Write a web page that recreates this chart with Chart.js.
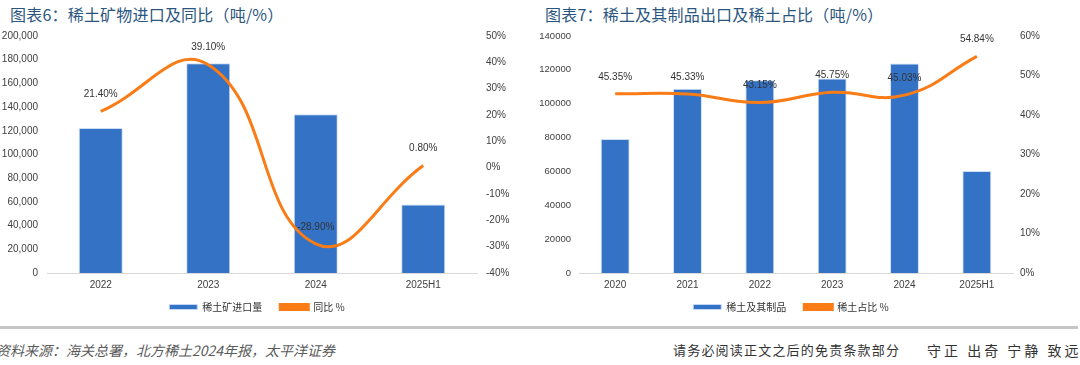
<!DOCTYPE html>
<html><head><meta charset="utf-8">
<script src="https://cdn.jsdelivr.net/npm/chart.js@4/dist/chart.umd.min.js"></script>
<style>
html,body{margin:0;padding:0;background:#fff;width:1080px;height:365px;overflow:hidden;position:relative;font-family:"Noto Sans CJK SC",sans-serif;}
.title{position:absolute;top:2px;font-size:16px;color:#2b5680;letter-spacing:0.2px;white-space:nowrap;line-height:24px;}
.box{position:absolute;top:0;}
.sep{position:absolute;left:0;top:326px;width:1078px;height:3px;background:#c6c6c6;}
.src{position:absolute;left:-4px;top:340px;font-size:14px;font-style:italic;color:#5a5a5a;letter-spacing:0px;white-space:nowrap;line-height:20px;}
.disc{position:absolute;left:673px;top:340px;font-size:13px;color:#333;letter-spacing:1.2px;white-space:nowrap;line-height:20px;}
.motto{position:absolute;left:927px;top:340px;font-size:14px;color:#333;letter-spacing:3px;white-space:nowrap;line-height:20px;}
</style></head>
<body>
<div class="title" style="left:10px">图表6：稀土矿物进口及同比（吨/%）</div>
<div class="title" style="left:545px">图表7：稀土及其制品出口及稀土占比（吨/%）</div>
<div class="box" style="left:0px"><canvas id="c1" width="514" height="331"></canvas></div>
<div class="box" style="left:540px"><canvas id="c2" width="502" height="331"></canvas></div>
<div class="sep"></div>
<div class="src">资料来源：海关总署，北方稀土2024年报，太平洋证券</div>
<div class="disc">请务必阅读正文之后的免责条款部分</div>
<div class="motto">守正 出奇 宁静 致远</div>
<script>
// ---- data ----
const cats1 = ['2022', '2023', '2024', '2025H1'];
const imports1 = [122300, 176900, 133900, 57900];
const yoy1 = [21.4, 39.1, -28.9, 0.8];
const leftTicks1 = { min: 0, max: 200000, step: 20000 };
const rightTicks1 = { min: -40, max: 50, step: 10 };

const cats2 = ['2020', '2021', '2022', '2023', '2024', '2025H1'];
const exports2 = [79100, 108800, 113900, 114900, 123700, 60300];
const share2 = [45.35, 45.33, 43.15, 45.75, 45.03, 54.84];
const leftTicks2 = { min: 0, max: 140000, step: 20000 };
const rightTicks2 = { min: 0, max: 60, step: 10 };

const BLUE = '#3472c6';
const ORANGE = '#f97c16';
const FAMILY = '"Liberation Sans", Arial, sans-serif';
const TICKCOLOR = '#404040';

const ptLabels = {
  id: 'ptLabels',
  afterDatasetsDraw(chart) {
    const ctx = chart.ctx;
    chart.data.datasets.forEach((ds, i) => {
      if (ds.type !== 'line') return;
      const meta = chart.getDatasetMeta(i);
      ctx.save();
      ctx.font = '10px ' + FAMILY;
      ctx.fillStyle = '#333';
      ctx.textAlign = 'center';
      ctx.textBaseline = 'middle';
      meta.data.forEach((pt, j) => {
        ctx.fillText(ds.data[j].toFixed(2) + '%', pt.x, pt.y - 17);
      });
      ctx.restore();
    });
  }
};

// pull the legend a little closer to the axis labels
const legendShift = {
  id: 'legendShift',
  afterLayout(chart) {
    if (chart.legend) { chart.legend.top -= 9; chart.legend.bottom -= 9; }
  }
};

function makeChart(id, cats, bars, line, barName, lineName, lt, rt, fmtLeft, leftW, leftPad, leftSize, rightW, rightPad, barPct) {
  return new Chart(document.getElementById(id), {
    data: {
      labels: cats,
      datasets: [
        { type: 'bar', label: barName, data: bars, backgroundColor: BLUE, borderColor: 'rgba(200,220,245,0.9)', borderWidth: 1,
          yAxisID: 'y', order: 2, categoryPercentage: 1, barPercentage: barPct },
        { type: 'line', label: lineName, data: line, borderColor: ORANGE, backgroundColor: ORANGE, borderWidth: 3,
          pointRadius: 0, tension: 0.45, yAxisID: 'y1', order: 1 }
      ]
    },
    options: {
      responsive: false,
      animation: false,
      layout: { padding: { top: 36, left: 0, right: 0, bottom: 0 } },
      plugins: {
        tooltip: { enabled: false },
        legend: {
          position: 'bottom',
          labels: {
            boxWidth: 28, boxHeight: 5, padding: 18, color: '#333',
            font: { family: '"Noto Sans CJK SC", sans-serif', size: 10 },
            sort: (a, b) => a.datasetIndex - b.datasetIndex
          }
        }
      },
      scales: {
        x: {
          grid: { display: false, drawTicks: false },
          border: { display: true, color: '#d9d9d9', width: 1 },
          ticks: { font: { family: FAMILY, size: 10 }, color: TICKCOLOR, padding: 6 },
          afterFit: s => { s.height = 20; }
        },
        y: {
          position: 'left', min: lt.min, max: lt.max,
          grid: { display: false, drawTicks: false }, border: { display: false },
          ticks: { stepSize: lt.step, font: { family: FAMILY, size: leftSize }, color: TICKCOLOR, padding: leftPad, callback: fmtLeft },
          afterFit: s => { s.width = leftW; }
        },
        y1: {
          position: 'right', min: rt.min, max: rt.max,
          grid: { display: false, drawTicks: false }, border: { display: false },
          ticks: { stepSize: rt.step, font: { family: FAMILY, size: 10 }, color: TICKCOLOR, padding: rightPad, callback: v => v + '%' },
          afterFit: s => { s.width = rightW; }
        }
      }
    },
    plugins: [ptLabels, legendShift]
  });
}

makeChart('c1', cats1, imports1, yoy1, '稀土矿进口量', '同比 %', leftTicks1, rightTicks1,
  v => v.toLocaleString('en-US'), 47, 9, 10, 37, 9, 0.41);
makeChart('c2', cats2, exports2, share2, '稀土及其制品', '稀土占比 %', leftTicks2, rightTicks2,
  v => String(v), 39, 8, 9.5, 29, 7, 0.40);
</script>
</body></html>
